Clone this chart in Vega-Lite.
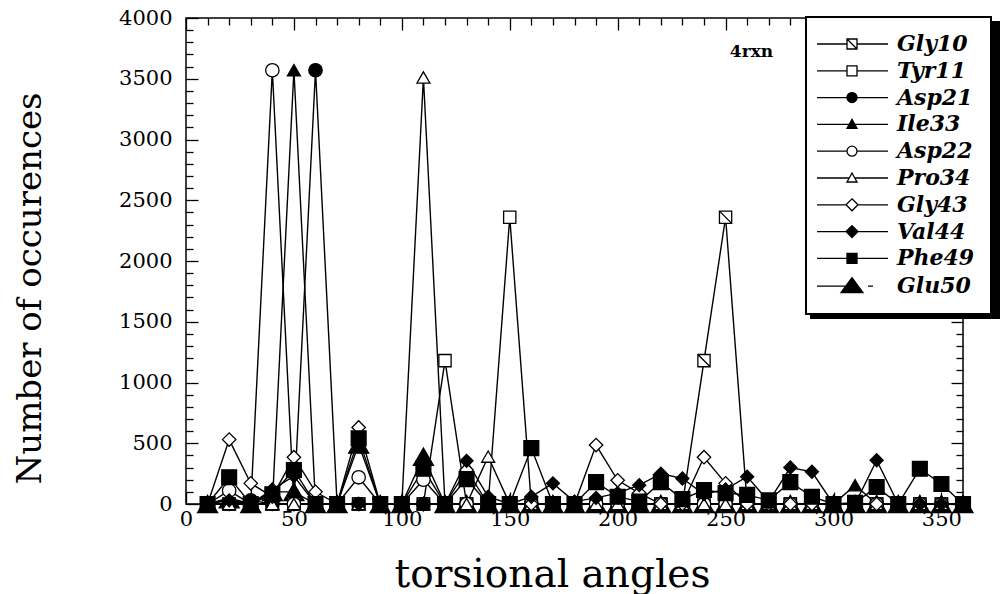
{
  "$schema": "https://vega.github.io/schema/vega-lite/v6.json",
  "width": 777,
  "height": 486,
  "autosize": {"type": "none"},
  "padding": {"left": 186, "top": 18, "right": 38, "bottom": 90},
  "background": "white",
  "config": {
    "view": {"stroke": "black", "strokeWidth": 1.5},
    "axis": {
      "domain": false, "grid": false, "tickColor": "black", "tickWidth": 1.3,
      "labelFont": "DejaVu Serif", "labelFontSize": 21, "labelColor": "black",
      "labelFlush": false, "labelOverlap": false, "format": "d",
      "titleFont": "DejaVu Serif", "titleFontSize": 34, "titleFontWeight": "normal", "titleColor": "black"
    },
    "legend": {
      "strokeColor": "black", "strokeWidth": 2, "fillColor": "white", "padding": 16,
      "labelFont": "DejaVu Serif", "labelFontStyle": "italic", "labelFontWeight": "bold",
      "labelFontSize": 22, "labelColor": "black", "labelOffset": 53, "labelLimit": 300,
      "rowPadding": 4.8, "symbolStrokeColor": "black", "symbolStrokeWidth": 1.3, "symbolSize": 100
    }
  },
  "data": {
    "values": [
      {"a": 10, "Gly10": 0, "Tyr11": 0, "Asp21": 0, "Ile33": 0, "Asp22": 0, "Pro34": 0, "Gly43": 0, "Val44": 0, "Phe49": 0, "Glu50": 0},
      {"a": 20, "Gly10": 0, "Tyr11": 0, "Asp21": 0, "Ile33": 50, "Asp22": 110, "Pro34": 0, "Gly43": 530, "Val44": 30, "Phe49": 220, "Glu50": 40},
      {"a": 30, "Gly10": 0, "Tyr11": 0, "Asp21": 30, "Ile33": 0, "Asp22": 0, "Pro34": 0, "Gly43": 170, "Val44": 0, "Phe49": 0, "Glu50": 0},
      {"a": 40, "Gly10": 0, "Tyr11": 0, "Asp21": 0, "Ile33": 0, "Asp22": 3570, "Pro34": 0, "Gly43": 60, "Val44": 120, "Phe49": 80, "Glu50": 100},
      {"a": 50, "Gly10": 0, "Tyr11": 0, "Asp21": 0, "Ile33": 3570, "Asp22": 0, "Pro34": 0, "Gly43": 385, "Val44": 230, "Phe49": 280, "Glu50": 100},
      {"a": 60, "Gly10": 0, "Tyr11": 0, "Asp21": 3570, "Ile33": 0, "Asp22": 0, "Pro34": 0, "Gly43": 100, "Val44": 0, "Phe49": 0, "Glu50": 0},
      {"a": 70, "Gly10": 0, "Tyr11": 0, "Asp21": 0, "Ile33": 0, "Asp22": 0, "Pro34": 0, "Gly43": 0, "Val44": 0, "Phe49": 0, "Glu50": 0},
      {"a": 80, "Gly10": 0, "Tyr11": 0, "Asp21": 0, "Ile33": 0, "Asp22": 220, "Pro34": 0, "Gly43": 630, "Val44": 0, "Phe49": 540, "Glu50": 490},
      {"a": 90, "Gly10": 0, "Tyr11": 0, "Asp21": 0, "Ile33": 0, "Asp22": 0, "Pro34": 0, "Gly43": 0, "Val44": 0, "Phe49": 0, "Glu50": 0},
      {"a": 100, "Gly10": 0, "Tyr11": 0, "Asp21": 0, "Ile33": 0, "Asp22": 0, "Pro34": 0, "Gly43": 0, "Val44": 0, "Phe49": 0, "Glu50": 0},
      {"a": 110, "Gly10": 0, "Tyr11": 0, "Asp21": 0, "Ile33": 0, "Asp22": 200, "Pro34": 3510, "Gly43": 0, "Val44": 0, "Phe49": 290, "Glu50": 390},
      {"a": 120, "Gly10": 0, "Tyr11": 1180, "Asp21": 0, "Ile33": 0, "Asp22": 0, "Pro34": 0, "Gly43": 0, "Val44": 0, "Phe49": 0, "Glu50": 0},
      {"a": 130, "Gly10": 0, "Tyr11": 0, "Asp21": 0, "Ile33": 0, "Asp22": 0, "Pro34": 0, "Gly43": 280, "Val44": 355, "Phe49": 205, "Glu50": 0},
      {"a": 140, "Gly10": 0, "Tyr11": 0, "Asp21": 0, "Ile33": 0, "Asp22": 0, "Pro34": 390, "Gly43": 0, "Val44": 60, "Phe49": 0, "Glu50": 0},
      {"a": 150, "Gly10": 0, "Tyr11": 2360, "Asp21": 0, "Ile33": 0, "Asp22": 0, "Pro34": 0, "Gly43": 0, "Val44": 0, "Phe49": 0, "Glu50": 0},
      {"a": 160, "Gly10": 0, "Tyr11": 0, "Asp21": 0, "Ile33": 0, "Asp22": 0, "Pro34": 0, "Gly43": 0, "Val44": 60, "Phe49": 460, "Glu50": 0},
      {"a": 170, "Gly10": 0, "Tyr11": 0, "Asp21": 0, "Ile33": 0, "Asp22": 0, "Pro34": 0, "Gly43": 0, "Val44": 170, "Phe49": 0, "Glu50": 0},
      {"a": 180, "Gly10": 0, "Tyr11": 0, "Asp21": 0, "Ile33": 0, "Asp22": 0, "Pro34": 0, "Gly43": 0, "Val44": 20, "Phe49": 0, "Glu50": 0},
      {"a": 190, "Gly10": 0, "Tyr11": 0, "Asp21": 0, "Ile33": 0, "Asp22": 0, "Pro34": 0, "Gly43": 485, "Val44": 50, "Phe49": 180, "Glu50": 0},
      {"a": 200, "Gly10": 0, "Tyr11": 0, "Asp21": 0, "Ile33": 0, "Asp22": 0, "Pro34": 0, "Gly43": 195, "Val44": 90, "Phe49": 60, "Glu50": 0},
      {"a": 210, "Gly10": 0, "Tyr11": 0, "Asp21": 0, "Ile33": 0, "Asp22": 0, "Pro34": 0, "Gly43": 90, "Val44": 155, "Phe49": 20, "Glu50": 0},
      {"a": 220, "Gly10": 0, "Tyr11": 0, "Asp21": 0, "Ile33": 0, "Asp22": 0, "Pro34": 0, "Gly43": 0, "Val44": 250, "Phe49": 180, "Glu50": 0},
      {"a": 230, "Gly10": 0, "Tyr11": 0, "Asp21": 0, "Ile33": 0, "Asp22": 0, "Pro34": 0, "Gly43": 0, "Val44": 210, "Phe49": 40, "Glu50": 0},
      {"a": 240, "Gly10": 1180, "Tyr11": 0, "Asp21": 0, "Ile33": 0, "Asp22": 0, "Pro34": 0, "Gly43": 385, "Val44": 80, "Phe49": 115, "Glu50": 0},
      {"a": 250, "Gly10": 2360, "Tyr11": 0, "Asp21": 0, "Ile33": 0, "Asp22": 0, "Pro34": 0, "Gly43": 170, "Val44": 120, "Phe49": 90, "Glu50": 0},
      {"a": 260, "Gly10": 0, "Tyr11": 0, "Asp21": 0, "Ile33": 0, "Asp22": 0, "Pro34": 0, "Gly43": 0, "Val44": 225, "Phe49": 75, "Glu50": 0},
      {"a": 270, "Gly10": 0, "Tyr11": 0, "Asp21": 0, "Ile33": 0, "Asp22": 0, "Pro34": 0, "Gly43": 0, "Val44": 20, "Phe49": 30, "Glu50": 0},
      {"a": 280, "Gly10": 0, "Tyr11": 0, "Asp21": 0, "Ile33": 0, "Asp22": 0, "Pro34": 0, "Gly43": 0, "Val44": 300, "Phe49": 180, "Glu50": 0},
      {"a": 290, "Gly10": 0, "Tyr11": 0, "Asp21": 0, "Ile33": 0, "Asp22": 0, "Pro34": 0, "Gly43": 0, "Val44": 265, "Phe49": 60, "Glu50": 0},
      {"a": 300, "Gly10": 0, "Tyr11": 0, "Asp21": 0, "Ile33": 0, "Asp22": 0, "Pro34": 0, "Gly43": 0, "Val44": 0, "Phe49": 0, "Glu50": 0},
      {"a": 310, "Gly10": 0, "Tyr11": 0, "Asp21": 0, "Ile33": 155, "Asp22": 0, "Pro34": 0, "Gly43": 0, "Val44": 0, "Phe49": 10, "Glu50": 0},
      {"a": 320, "Gly10": 0, "Tyr11": 0, "Asp21": 0, "Ile33": 0, "Asp22": 0, "Pro34": 0, "Gly43": 0, "Val44": 360, "Phe49": 140, "Glu50": 0},
      {"a": 330, "Gly10": 0, "Tyr11": 0, "Asp21": 0, "Ile33": 0, "Asp22": 0, "Pro34": 0, "Gly43": 0, "Val44": 0, "Phe49": 0, "Glu50": 0},
      {"a": 340, "Gly10": 0, "Tyr11": 0, "Asp21": 0, "Ile33": 0, "Asp22": 0, "Pro34": 0, "Gly43": 0, "Val44": 0, "Phe49": 290, "Glu50": 0},
      {"a": 350, "Gly10": 0, "Tyr11": 0, "Asp21": 0, "Ile33": 0, "Asp22": 0, "Pro34": 0, "Gly43": 0, "Val44": 0, "Phe49": 165, "Glu50": 0},
      {"a": 360, "Gly10": 0, "Tyr11": 0, "Asp21": 0, "Ile33": 0, "Asp22": 0, "Pro34": 0, "Gly43": 0, "Val44": 0, "Phe49": 0, "Glu50": 0}
    ]
  },
  "transform": [
    {"fold": ["Gly10", "Tyr11", "Asp21", "Ile33", "Asp22", "Pro34", "Gly43", "Val44", "Phe49", "Glu50"], "as": ["s", "v"]}
  ],
  "encoding": {
    "x": {"field": "a", "type": "quantitative", "scale": {"domain": [0, 360], "nice": false, "zero": false}, "axis": null},
    "y": {"field": "v", "type": "quantitative", "scale": {"domain": [0, 4000], "nice": false}, "axis": null}
  },
  "resolve": {
    "axis": {"x": "independent", "y": "independent"}
  },
  "layer": [
    {
      "mark": {"type": "line", "stroke": "black", "strokeWidth": 1.4},
      "encoding": {
        "x": {"field": "a", "type": "quantitative",
              "axis": {"orient": "bottom", "values": [0, 50, 100, 150, 200, 250, 300, 350], "tickSize": -12, "labelPadding": 16,
                       "title": "torsional angles", "titleFontSize": 39, "titleX": 366, "titleY": 70, "titleBaseline": "middle", "titleAlign": "center"}},
        "y": {"field": "v", "type": "quantitative",
              "axis": {"orient": "left", "values": [0, 500, 1000, 1500, 2000, 2500, 3000, 3500, 4000], "tickSize": -12, "labelPadding": 26,
                       "title": "Number of occurences", "titleX": -156, "titleY": 270, "titleAngle": -90, "titleBaseline": "middle", "titleAlign": "center"}},
        "detail": {"field": "s"}
      }
    },
    {
      "transform": [{"filter": "datum.s == 'Glu50'"}],
      "mark": {"type": "point", "shape": "triangle-up", "filled": true, "fill": "black", "stroke": "black", "strokeWidth": 1.3, "opacity": 1, "size": 400},
      "encoding": {
        "x": {"field": "a", "type": "quantitative",
              "axis": {"orient": "bottom", "values": [10, 20, 30, 40, 60, 70, 80, 90, 110, 120, 130, 140, 160, 170, 180, 190, 210, 220, 230, 240, 260, 270, 280, 290, 310, 320, 330, 340], "tickSize": -7, "labels": false, "title": null}},
        "y": {"field": "v", "type": "quantitative",
              "axis": {"orient": "left", "values": [100, 200, 300, 400, 600, 700, 800, 900, 1100, 1200, 1300, 1400, 1600, 1700, 1800, 1900, 2100, 2200, 2300, 2400, 2600, 2700, 2800, 2900, 3100, 3200, 3300, 3400, 3600, 3700, 3800, 3900], "tickSize": -7, "labels": false, "title": null}}
      }
    },
    {
      "transform": [{"filter": "datum.s == 'Gly10'"}],
      "mark": {"type": "point", "shape": "M-1,-1H1V1H-1ZM-1,-1L1,1", "filled": true, "fill": "white", "stroke": "black", "strokeWidth": 1.3, "opacity": 1, "size": 150}
    },
    {
      "transform": [{"filter": "datum.s == 'Tyr11'"}],
      "mark": {"type": "point", "shape": "square", "filled": true, "fill": "white", "stroke": "black", "strokeWidth": 1.3, "opacity": 1, "size": 150}
    },
    {
      "transform": [{"filter": "datum.s == 'Asp21'"}],
      "mark": {"type": "point", "shape": "circle", "filled": true, "fill": "black", "stroke": "black", "strokeWidth": 1.3, "opacity": 1, "size": 180}
    },
    {
      "transform": [{"filter": "datum.s == 'Ile33'"}],
      "mark": {"type": "point", "shape": "triangle-up", "filled": true, "fill": "black", "stroke": "black", "strokeWidth": 1.3, "opacity": 1, "size": 170}
    },
    {
      "transform": [{"filter": "datum.s == 'Asp22'"}],
      "mark": {"type": "point", "shape": "circle", "filled": true, "fill": "white", "stroke": "black", "strokeWidth": 1.3, "opacity": 1, "size": 180}
    },
    {
      "transform": [{"filter": "datum.s == 'Pro34'"}],
      "mark": {"type": "point", "shape": "triangle-up", "filled": true, "fill": "white", "stroke": "black", "strokeWidth": 1.3, "opacity": 1, "size": 170}
    },
    {
      "transform": [{"filter": "datum.s == 'Gly43'"}],
      "mark": {"type": "point", "shape": "diamond", "filled": true, "fill": "white", "stroke": "black", "strokeWidth": 1.3, "opacity": 1, "size": 180}
    },
    {
      "transform": [{"filter": "datum.s == 'Val44'"}],
      "mark": {"type": "point", "shape": "diamond", "filled": true, "fill": "black", "stroke": "black", "strokeWidth": 1.3, "opacity": 1, "size": 170}
    },
    {
      "transform": [{"filter": "datum.s == 'Phe49'"}],
      "mark": {"type": "point", "shape": "square", "filled": true, "fill": "black", "stroke": "black", "strokeWidth": 1.3, "opacity": 1, "size": 220}
    },
    {
      "data": {"values": [{"k": "Gly10_"}]},
      "transform": [{"filter": "datum.k == 'none'"}],
      "mark": {"type": "point", "filled": true, "strokeWidth": 1.3, "opacity": 1, "size": 100},
      "encoding": {
        "x": null,
        "y": null,
        "color": {"field": "k", "type": "nominal",
                  "legend": {"title": null, "orient": "none", "legendX": 625, "legendY": 4, "fillColor": "black", "labelColor": "black",
                             "labelExpr": "''", "symbolSize": 210, "labelOffset": 134},
                  "scale": {"domain": ["Gly10_", "Tyr11_", "Asp21_", "Ile33_", "Asp22_", "Pro34_", "Gly43_", "Val44_", "Phe49_", "Glu50_"],
                            "range": ["black", "black", "black", "black", "black", "black", "black", "black", "black", "black"]}}
      }
    },
    {
      "transform": [{"filter": "datum.v < 0"}],
      "mark": {"type": "point", "filled": true, "strokeWidth": 1.3, "opacity": 1, "size": 100},
      "encoding": {
        "x": {"field": "a", "type": "quantitative",
              "axis": {"orient": "top", "values": [0, 50, 100, 150, 200, 250, 300, 350], "tickSize": -12, "labels": false, "title": null}},
        "y": {"field": "v", "type": "quantitative",
              "axis": {"orient": "right", "values": [0, 500, 1000, 1500, 2000, 2500, 3000, 3500, 4000], "tickSize": -12, "labels": false, "title": null}},
        "shape": {"field": "s", "type": "nominal",
                  "legend": {"title": null, "orient": "none", "legendX": 620, "legendY": -1},
                  "scale": {"domain": ["Gly10", "Tyr11", "Asp21", "Ile33", "Asp22", "Pro34", "Gly43", "Val44", "Phe49", "Glu50"],
                            "range": [
                              "M-3.2,0H2.8M4.8,0H11M2.8,-1H4.8V1H2.8ZM2.8,-1L4.8,1",
                              "M-3.2,0H2.8M4.8,0H11M2.8,-1H4.8V1H2.8Z",
                              "M-3.2,0H2.8M4.8,0H11M2.8,0A1,1 0 1,0 4.8,0A1,1 0 1,0 2.8,0Z",
                              "M-3.2,0H3.2M4.4,0H11M3.8,-1L4.8,0.8H2.8Z",
                              "M-3.2,0H2.8M4.8,0H11M2.8,0A1,1 0 1,0 4.8,0A1,1 0 1,0 2.8,0Z",
                              "M-3.2,0H3.2M4.4,0H11M3.8,-1L4.8,0.8H2.8Z",
                              "M-3.2,0H2.6M5,0H11M3.8,-1.2L5,0L3.8,1.2L2.6,0Z",
                              "M-3.2,0H2.6M5,0H11M3.8,-1.2L5,0L3.8,1.2L2.6,0Z",
                              "M-3.2,0H2.8M4.8,0H11M2.8,-1H4.8V1H2.8Z",
                              "M-3.2,0H2.55M7,0H8M3.8,-1.7L6,1.3H1.6Z"
                            ]}},
        "fill": {"field": "s", "type": "nominal",
                 "legend": {"title": null, "orient": "none", "legendX": 620, "legendY": -1},
                 "scale": {"domain": ["Gly10", "Tyr11", "Asp21", "Ile33", "Asp22", "Pro34", "Gly43", "Val44", "Phe49", "Glu50"],
                           "range": ["white", "white", "black", "black", "white", "white", "white", "black", "black", "black"]}},
        "stroke": {"field": "s", "type": "nominal",
                   "legend": {"title": null, "orient": "none", "legendX": 620, "legendY": -1},
                   "scale": {"domain": ["Gly10", "Tyr11", "Asp21", "Ile33", "Asp22", "Pro34", "Gly43", "Val44", "Phe49", "Glu50"],
                             "range": ["black", "black", "black", "black", "black", "black", "black", "black", "black", "black"]}}
      }
    },
    {
      "data": {"values": [{"a": 262, "v": 3720, "t": "4rxn"}]},
      "mark": {"type": "text", "font": "DejaVu Serif", "fontWeight": "bold", "fontSize": 17, "color": "black", "align": "center", "baseline": "middle"},
      "encoding": {
        "x": {"field": "a", "type": "quantitative",
              "axis": {"orient": "top", "values": [10, 20, 30, 40, 60, 70, 80, 90, 110, 120, 130, 140, 160, 170, 180, 190, 210, 220, 230, 240, 260, 270, 280, 290, 310, 320, 330, 340], "tickSize": -7, "labels": false, "title": null}},
        "y": {"field": "v", "type": "quantitative",
              "axis": {"orient": "right", "values": [100, 200, 300, 400, 600, 700, 800, 900, 1100, 1200, 1300, 1400, 1600, 1700, 1800, 1900, 2100, 2200, 2300, 2400, 2600, 2700, 2800, 2900, 3100, 3200, 3300, 3400, 3600, 3700, 3800, 3900], "tickSize": -7, "labels": false, "title": null}},
        "text": {"field": "t"}
      }
    }
  ]
}
